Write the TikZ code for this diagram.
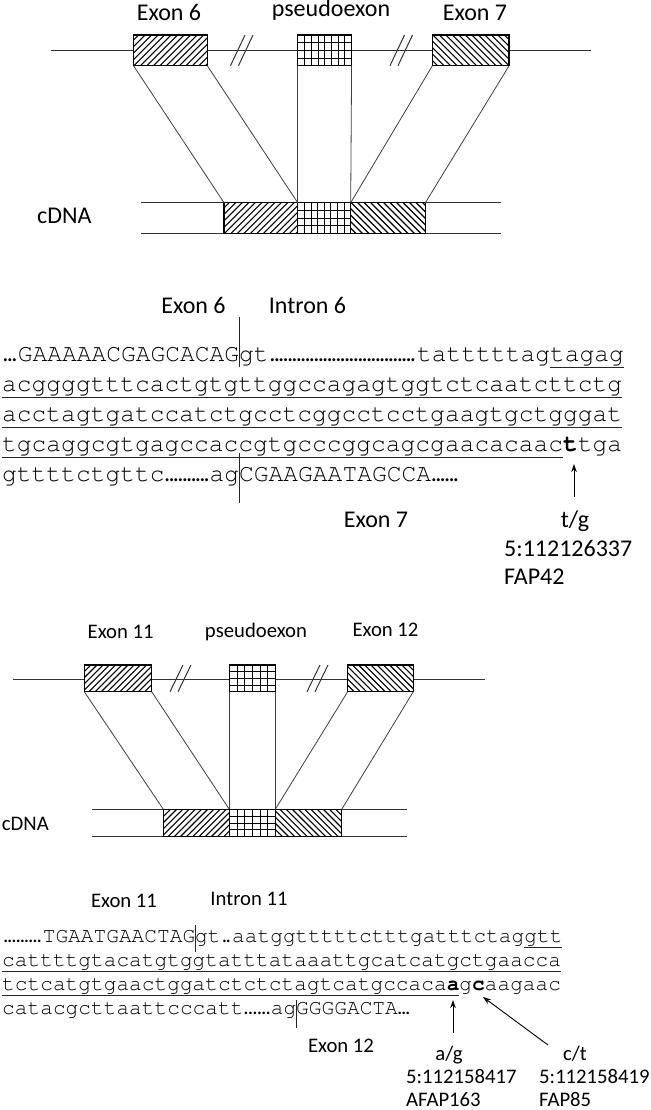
\documentclass[tikz,border=0pt]{standalone}
\usepackage{fontspec}
\setmainfont{Carlito}
\newfontfamily\seqf{TeX Gyre Cursor}
\usetikzlibrary{arrows.meta}
\newcommand\dotrun[2]{\hbox to #1{\cleaders\hbox to #2{\hss\rmfamily.\hss}\hfill}}
% "/" hatch: x1 y1 x2 y2 spacing
\newcommand\hatchF[5]{\begin{scope}\clip (#1,#2) rectangle (#3,#4);
  \foreach \k in {0,...,28} {\draw[hatchln] ({#1-45+\k*#5},#4) -- ++(60,-60);}\end{scope}}
% "\" hatch
\newcommand\hatchB[5]{\begin{scope}\clip (#1,#2) rectangle (#3,#4);
  \foreach \k in {0,...,28} {\draw[hatchln] ({#1-45+\k*#5},#2) -- ++(60,60);}\end{scope}}
% grid: x1 y1 x2 y2 nx ny
\newcommand\gridB[6]{\foreach \k in {1,...,#5} {\draw[gridln] ({#1+(#3-#1)*\k/#5},#2) -- ({#1+(#3-#1)*\k/#5},#4);}
  \foreach \k in {1,...,#6} {\draw[gridln] (#1,{#2+(#4-#2)*\k/#6}) -- (#3,{#2+(#4-#2)*\k/#6});}}
\tikzset{
  mainln/.style={line width=1pt, black!80},
  boxln/.style={line width=1.4pt, black},
  conn/.style={line width=0.8pt, black!75},
  hatchln/.style={line width=1.1pt, black},
  gridln/.style={line width=0.8pt, black},
  seqA/.style={anchor=base west, inner sep=0pt, font=\seqf\fontsize{24.6}{30}\selectfont},
  seqB/.style={anchor=base west, inner sep=0pt, font=\seqf\fontsize{21.17}{26}\selectfont},
  labA/.style={anchor=base, inner sep=0pt, font=\fontsize{24}{28}\selectfont},
  labB/.style={anchor=base, inner sep=0pt, font=\fontsize{20.7}{24}\selectfont},
  ulA/.style={line width=1pt, black!85},
  sep/.style={line width=1pt, black!85},
  arr/.style={line width=0.9pt, -{Stealth[length=8pt,width=5.5pt]}},
}
\begin{document}
\begin{tikzpicture}[x=1pt,y=-1pt]
\useasboundingbox (0,0) rectangle (650,1110);
\fill[white] (0,0) rectangle (650,1110);

% ================= TOP DIAGRAM =================
\coordinate (tl0) at (50.6,50.7); \coordinate (tl1) at (591,50.7);
\draw[mainln] (tl0) -- (tl1);
\draw[mainln] (230.5,65.7) -- (245,35) (238.5,65.7) -- (253,35);
\draw[mainln] (390,65.7) -- (404.5,35) (398,65.7) -- (412.5,35);
% genomic boxes
\fill[white] (133.5,35) rectangle (207.3,65.7);
\hatchF{133.5}{35}{207.3}{65.7}{6.5}
\draw[boxln] (133.5,35) rectangle (207.3,65.7);
\coordinate (e6bl) at (133.5,65.7); \coordinate (e6br) at (207.3,65.7);
\fill[white] (297.7,35) rectangle (351.6,65.7);
\gridB{297.7}{35}{351.6}{65.7}{8}{4}
\draw[boxln] (297.7,35) rectangle (351.6,65.7);
\coordinate (pebl) at (297.7,65.7); \coordinate (pebr) at (351.6,65.7);
\fill[white] (432.4,35) rectangle (509.1,65.7);
\hatchB{432.4}{35}{509.1}{65.7}{6.5}
\draw[boxln] (432.4,35) rectangle (509.1,65.7);
\coordinate (e7bl) at (432.4,65.7); \coordinate (e7br) at (509.1,65.7);
% cDNA
\coordinate (ct0) at (141,202.7); \coordinate (ct1) at (501,202.7);
\coordinate (cb0) at (141,233.3); \coordinate (cb1) at (501,233.3);
\draw[mainln] (ct0) -- (ct1); \draw[mainln] (cb0) -- (cb1);
\fill[white] (224,202.7) rectangle (425.4,233.3);
\hatchF{224}{202.7}{297.7}{233.3}{6.5}
\gridB{297.7}{202.7}{350.7}{233.3}{8}{4}
\hatchB{350.7}{202.7}{425.4}{233.3}{6.5}
\draw[boxln] (224,202.7) rectangle (297.7,233.3);
\draw[boxln] (297.7,202.7) rectangle (350.7,233.3);
\draw[boxln] (350.7,202.7) rectangle (425.4,233.3);
\coordinate (c6tl) at (224,202.7); \coordinate (c6tr) at (297.7,202.7);
\coordinate (cptr) at (350.7,202.7); \coordinate (c7tr) at (425.4,202.7);
\draw[conn] (e6bl) -- (c6tl);
\draw[conn] (e6br) -- (c6tr);
\draw[conn] (pebl) -- (c6tr);
\draw[conn] (pebr) -- (cptr);
\draw[conn] (e7bl) -- (cptr);
\draw[conn] (e7br) -- (c7tr);
\node[labA] (lE6) at (169,20.5) {Exon 6};
\node[labA] (lPE) at (331,17) {pseudoexon};
\node[labA] (lE7) at (475,20.5) {Exon 7};
\node[labA, anchor=base west] (lcD) at (37,223.5) {cDNA};

% ================= SEQUENCE BLOCK 1 =================
\node[labA] (sE6) at (193.5,313) {Exon 6};
\node[labA] (sI6) at (307.5,313) {Intron 6};
\coordinate (v1a) at (239,317); \coordinate (v1b) at (239,367);
\draw[sep] (v1a) -- (v1b);
\node[seqA] (r1) at (2,361) {\dotrun{15.6pt}{4.4pt}GAAAAACGAGCACAGgt\dotrun{148.5pt}{4.4pt}tatttttagtagag};
\draw[ulA] (549.8,367) -- (623.6,367);
\node[seqA] (r2) at (2,391) {acggggtttcactgtgttggccagagtggtctcaatcttctg};
\draw[ulA] (2,397) -- (621.9,397);
\node[seqA] (r3) at (2,421) {acctagtgatccatctgcctcggcctcctgaagtgctgggat};
\draw[ulA] (2,427) -- (621.9,427);
\node[seqA] (r4) at (2,451) {tgcaggcgtgagccaccgtgcccggcagcgaacacaac\textbf{t}tga};
\draw[ulA] (2,457) -- (562.9,457);
\node[seqA] (r5) at (2,481) {gttttctgttc\dotrun{45.1pt}{4.4pt}agCGAAGAATAGCCA\dotrun{28pt}{4.4pt}};
\coordinate (v2a) at (239,453); \coordinate (v2b) at (239,503);
\draw[sep] (v2a) -- (v2b);
\node[labA] (sE7) at (376,527) {Exon 7};
\node[labA] (tg) at (575,527) {t/g};
\node[labA, anchor=base west] (pos1) at (504,556) {5:112126337};
\node[labA, anchor=base west] (fap42) at (504,584) {FAP42};
\coordinate (a1s) at (574,497); \coordinate (a1e) at (574,464);
\draw[arr] (a1s) -- (a1e);

% ================= BOTTOM DIAGRAM =================
\coordinate (bl0) at (12.7,679.3); \coordinate (bl1) at (485,679.3);
\draw[mainln] (bl0) -- (bl1);
\draw[mainln] (170,691.7) -- (183,665) (178,691.7) -- (191,665);
\draw[mainln] (307,691.7) -- (320,665) (315,691.7) -- (328,665);
\fill[white] (84.3,665) rectangle (151.7,691.7);
\hatchF{84.3}{665}{151.7}{691.7}{6.2}
\draw[boxln] (84.3,665) rectangle (151.7,691.7);
\coordinate (e11bl) at (84.3,691.7); \coordinate (e11br) at (151.7,691.7);
\fill[white] (229.3,665) rectangle (275.3,691.7);
\gridB{229.3}{665}{275.3}{691.7}{6}{4}
\draw[boxln] (229.3,665) rectangle (275.3,691.7);
\coordinate (pe2bl) at (229.3,691.7); \coordinate (pe2br) at (275.3,691.7);
\fill[white] (347.7,665) rectangle (413.3,691.7);
\hatchB{347.7}{665}{413.3}{691.7}{6.2}
\draw[boxln] (347.7,665) rectangle (413.3,691.7);
\coordinate (e12bl) at (347.7,691.7); \coordinate (e12br) at (413.3,691.7);
\coordinate (dt0) at (91.7,809.3); \coordinate (dt1) at (406.7,809.3);
\coordinate (db0) at (91.7,836.7); \coordinate (db1) at (406.7,836.7);
\draw[mainln] (dt0) -- (dt1); \draw[mainln] (db0) -- (db1);
\fill[white] (163.3,809.3) rectangle (341.7,836.7);
\hatchF{163.3}{809.3}{229.3}{836.7}{6.2}
\gridB{229.3}{809.3}{275.3}{836.7}{6}{4}
\hatchB{275.3}{809.3}{341.7}{836.7}{6.2}
\draw[boxln] (163.3,809.3) rectangle (229.3,836.7);
\draw[boxln] (229.3,809.3) rectangle (275.3,836.7);
\draw[boxln] (275.3,809.3) rectangle (341.7,836.7);
\coordinate (d11tl) at (163.3,809.3); \coordinate (d11tr) at (229.3,809.3);
\coordinate (dptr) at (275.3,809.3); \coordinate (d12tr) at (341.7,809.3);
\draw[conn] (e11bl) -- (d11tl);
\draw[conn] (e11br) -- (d11tr);
\draw[conn] (pe2bl) -- (d11tr);
\draw[conn] (pe2br) -- (dptr);
\draw[conn] (e12bl) -- (dptr);
\draw[conn] (e12br) -- (d12tr);
\node[labB] (lE11) at (120.7,638) {Exon 11};
\node[labB] (lPE2) at (256,637) {pseudoexon};
\node[labB] (lE12) at (385.5,636) {Exon 12};
\node[labB, anchor=base west] (lcD2) at (1.7,830) {cDNA};

% ================= SEQUENCE BLOCK 2 =================
\node[labB] (sE11) at (124,907) {Exon 11};
\node[labB] (sI11) at (249,905) {Intron 11};
\coordinate (w1a) at (195,925); \coordinate (w1b) at (195,952);
\draw[sep] (w1a) -- (w1b);
\node[seqB] (q1) at (2,942) {\dotrun{40.6pt}{4.2pt}TGAATGAACTAGgt\dotrun{11.6pt}{3.9pt}aatggtttttctttgatttctaggtt};
\draw[ulA] (524.1,947.5) -- (562.2,947.5);
\node[seqB] (q2) at (2,966) {cattttgtacatgtggtatttataaattgcatcatgctgaacca};
\draw[ulA] (2,971.5) -- (560.8,971.5);
\node[seqB] (q3) at (2,990) {tctcatgtgaactggatctctctagtcatgccaca\textbf{a}g\textbf{c}aagaac};
\draw[ulA] (2,995.5) -- (459.2,995.5);
\node[seqB] (q4) at (2,1014) {catacgcttaattcccatt\dotrun{27.3pt}{4.5pt}agGGGGACTA\dotrun{12pt}{4pt}};
\coordinate (w2a) at (296,1000); \coordinate (w2b) at (296,1028);
\draw[sep] (w2a) -- (w2b);
\node[labB] (sE12) at (341,1052) {Exon 12};
\node[labB] (ag) at (449,1060) {a/g};
\node[labB, anchor=base west] (pos2) at (406,1083) {5:112158417};
\node[labB, anchor=base west] (afap) at (406,1106) {AFAP163};
\node[labB] (ct) at (575,1060) {c/t};
\node[labB, anchor=base west] (pos3) at (539,1083) {5:112158419};
\node[labB, anchor=base west] (fap85) at (539,1106) {FAP85};
\coordinate (a2s) at (453,1033); \coordinate (a2e) at (453,1000);
\draw[arr] (a2s) -- (a2e);
\coordinate (a3s) at (548,1045); \coordinate (a3e) at (483,997);
\draw[arr] (a3s) -- (a3e);
\end{tikzpicture}
\end{document}
